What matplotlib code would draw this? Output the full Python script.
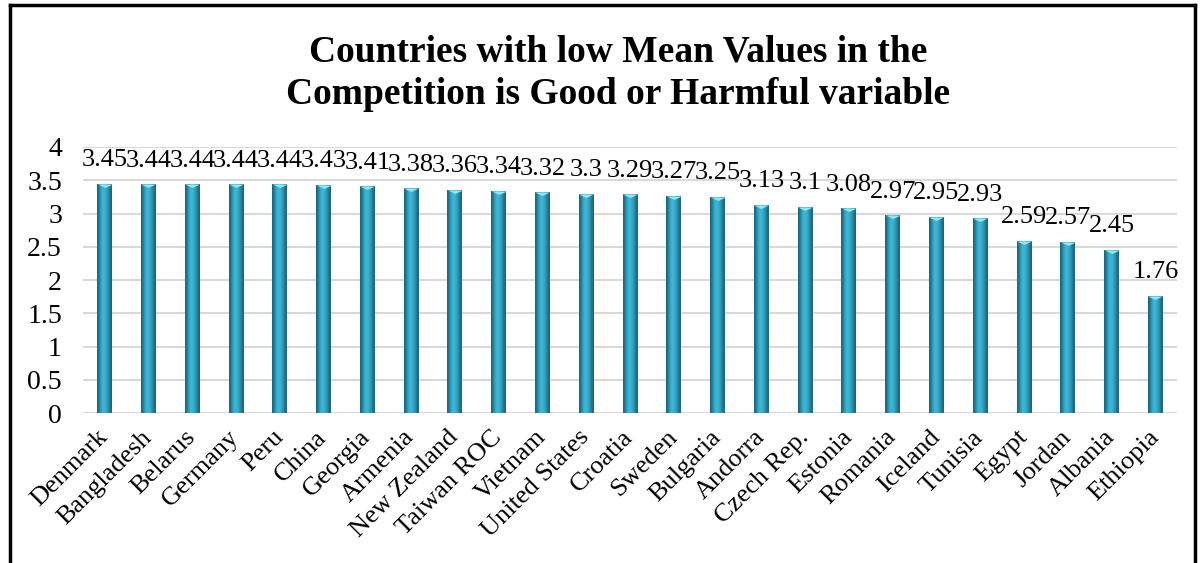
import matplotlib.pyplot as plt
import numpy as np
from matplotlib.lines import Line2D
from matplotlib.colors import LinearSegmentedColormap

countries = ['Denmark', 'Bangladesh', 'Belarus', 'Germany', 'Peru', 'China', 'Georgia',
             'Armenia', 'New Zealand', 'Taiwan ROC', 'Vietnam', 'United States', 'Croatia',
             'Sweden', 'Bulgaria', 'Andorra', 'Czech Rep.', 'Estonia', 'Romania', 'Iceland',
             'Tunisia', 'Egypt', 'Jordan', 'Albania', 'Ethiopia']
means = [3.45, 3.44, 3.44, 3.44, 3.44, 3.43, 3.41, 3.38, 3.36, 3.34, 3.32, 3.3, 3.29,
         3.27, 3.25, 3.13, 3.1, 3.08, 2.97, 2.95, 2.93, 2.59, 2.57, 2.45, 1.76]
yticks = [0, 0.5, 1, 1.5, 2, 2.5, 3, 3.5, 4]
title = 'Countries with low Mean Values in the\nCompetition is Good or Harmful variable'

plt.rcParams['font.family'] = ['Liberation Serif', 'DejaVu Serif']

fig = plt.figure(figsize=(12, 5.63), dpi=100)
ax = fig.add_axes([0.069, 0.2664, 0.912, 0.4725])

x = np.arange(len(countries))
bars = ax.bar(x, means, width=0.34, color='#2ba0c2', zorder=2)

# cylinder-like shading on each bar
shade = np.array([[0.0, 0.4, 0.6, 0.5, 0.3, 0.0]])
cmap = LinearSegmentedColormap.from_list('cyl', ['#1a667e', '#40bcdc'])
for b in bars:
    im = ax.imshow(shade, cmap=cmap, aspect='auto', interpolation='bicubic',
                   extent=[b.get_x(), b.get_x() + b.get_width(), 0, b.get_height()],
                   zorder=3, vmin=0, vmax=0.6)
    im.set_clip_path(b)

# light bevel on top of each bar
cap = [(-1, 0), (1, 0), (0, -0.45), (-1, 0)]
ax.plot(x, means, linestyle='none', marker=cap, markersize=11, color='#8ee8f5',
        markeredgewidth=0, zorder=4)

for xi, v in zip(x, means):
    ax.annotate(f'{v:g}', (xi, v), xytext=(0, 17), textcoords='offset points',
                ha='center', va='center', fontsize=19, zorder=5)

ax.set_xlim(-0.5, len(countries) - 0.5)
ax.set_ylim(0, 4)
ax.set_yticks(yticks)
ax.set_yticklabels([f'{t:g}' for t in yticks], fontsize=20)
ax.set_xticks(x)
ax.set_xticklabels(countries, fontsize=19, rotation=45, ha='right', va='center',
                   rotation_mode='anchor')
ax.tick_params(axis='y', length=0, pad=15)
ax.tick_params(axis='x', length=0, pad=15)
ax.grid(axis='y', color='#d9d9d9', linewidth=1.5, zorder=0)
ax.set_axisbelow(True)
for s in ax.spines.values():
    s.set_visible(False)

fig.text(0.515, 0.87, title, ha='center', va='center', fontsize=27,
         fontweight='bold', linespacing=1.3)

# outer frame (left, top, right)
for xs, ys in [([0.008, 0.008], [0, 0.991]), ([0.008, 0.996], [0.991, 0.991]),
               ([0.996, 0.996], [0, 0.991])]:
    fig.add_artist(Line2D(xs, ys, color='black', linewidth=2.5, transform=fig.transFigure))

fig.savefig('out.png', dpi=100)
